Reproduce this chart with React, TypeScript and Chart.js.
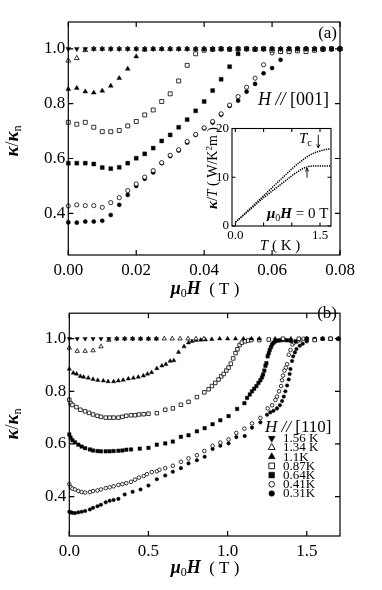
import React, { useEffect, useRef } from 'react';
import { Chart, registerables } from 'chart.js';

Chart.register(...registerables);

const SERIF = '"Liberation Serif", "Times New Roman", Times, serif';

// ---------------- panel (a): H // [001] ----------------
const aField = [0, 0.0025, 0.005, 0.0075, 0.01, 0.0125, 0.015, 0.0175, 0.02, 0.0225, 0.025, 0.0275, 0.03, 0.0325, 0.035, 0.0375, 0.04, 0.0425, 0.045, 0.0475, 0.05, 0.0525, 0.055, 0.0575, 0.06, 0.0625, 0.065, 0.0675, 0.07, 0.0725, 0.075, 0.0775, 0.08];
const aK156 = [1, 1, 1, 1, 1, 1, 1, 1, 1, 1, 1, 1, 1, 1, 1, 1, 1, 1, 1, 1, 1, 1, 1, 1, 1, 1, 1, 1, 1, 1, 1, 1, 1];
const aK134 = [0.957, 0.966, 0.995, 1, 1, 1, 1, 1, 1, 1, 1, 1, 1, 1, 1, 1, 1, 1, 1, 1, 1, 1, 1, 1, 1, 1, 1, 1, 1, 1, 1, 1, 1];
const aK110 = [0.853, 0.857, 0.844, 0.840, 0.847, 0.865, 0.893, 0.927, 0.972, 0.996, 1, 1, 1, 1, 1, 1, 1, 1, 1, 1, 1, 1, 1, 1, 1, 1, 1, 1, 1, 1, 1, 1, 1];
const aK087 = [0.732, 0.725, 0.732, 0.714, 0.698, 0.698, 0.702, 0.719, 0.735, 0.759, 0.777, 0.808, 0.836, 0.883, 0.940, 0.982, 0.995, 0.998, 1, 0.998, 1, 1, 0.998, 1, 0.995, 0.99, 0.99, 0.993, 0.99, 0.995, 0.998, 1, 1];
const aK064 = [0.583, 0.583, 0.583, 0.580, 0.567, 0.563, 0.568, 0.583, 0.601, 0.617, 0.638, 0.664, 0.686, 0.714, 0.742, 0.774, 0.808, 0.848, 0.889, 0.935, 0.982, 1, 0.998, 1, 1, 0.998, 1, 1, 1, 0.998, 1, 1, 1];
const aK041 = [0.427, 0.431, 0.428, 0.428, 0.422, 0.439, 0.457, 0.483, 0.507, 0.532, 0.556, 0.585, 0.612, 0.632, 0.662, 0.688, 0.712, 0.735, 0.763, 0.795, 0.826, 0.86, 0.893, 0.942, 0.985, 0.99, 0.995, 1, 1, 1, 1, 1, 1];
const aK031 = [0.367, 0.366, 0.370, 0.370, 0.373, 0.394, 0.431, 0.467, 0.500, 0.526, 0.549, 0.583, 0.609, 0.629, 0.658, 0.686, 0.710, 0.731, 0.760, 0.792, 0.811, 0.844, 0.872, 0.911, 0.930, 0.960, 0.990, 1, 1, 1, 1, 1, 1];

const aXTicks = [0, 0.02, 0.04, 0.06, 0.08];
const aXTickLabels = ['0.00', '0.02', '0.04', '0.06', '0.08'];
const yTicks = [0.4, 0.6, 0.8, 1.0];
const yTickLabels = ['0.4', '0.6', '0.8', '1.0'];

// ---------------- panel (b): H // [110] ----------------
const bX156 = [0, 0.05, 0.1, 0.15, 0.2, 0.25, 0.3, 0.35, 0.4, 0.45, 0.5, 0.55];
const bK156 = [1, 1, 1, 1, 1, 1, 1, 1, 1, 1, 1, 1];
const bX134 = [0, 0.05, 0.1, 0.15, 0.2, 0.25, 0.3, 0.35, 0.4, 0.45, 0.5, 0.55, 0.6, 0.65, 0.7, 0.75, 0.8, 0.85];
const bK134 = [0.965, 0.953, 0.953, 0.955, 0.97, 0.995, 1, 1, 1, 1, 1, 1, 1, 1, 1, 1, 1, 1];
const bX110 = [0, 0.025, 0.046, 0.07, 0.09, 0.12, 0.15, 0.18, 0.215, 0.245, 0.28, 0.31, 0.34, 0.373, 0.405, 0.436, 0.468, 0.494, 0.52, 0.553, 0.585, 0.61, 0.637, 0.66, 0.69, 0.725, 0.753, 0.775, 0.8, 0.83, 0.86, 0.9, 0.95, 1.0, 1.05, 1.1, 1.15, 1.2, 1.3, 1.4, 1.5, 1.6, 1.7];
const bK110 = [0.885, 0.870, 0.866, 0.857, 0.854, 0.851, 0.846, 0.842, 0.840, 0.837, 0.837, 0.840, 0.843, 0.848, 0.851, 0.854, 0.859, 0.866, 0.872, 0.887, 0.897, 0.903, 0.915, 0.917, 0.949, 0.970, 0.985, 0.990, 0.994, 0.995, 0.996, 0.998, 1, 1, 1, 1, 1, 1, 1, 1, 1, 1, 1];
const bX087 = [0, 0.008, 0.02, 0.045, 0.07, 0.1, 0.125, 0.15, 0.178, 0.2, 0.23, 0.255, 0.28, 0.31, 0.335, 0.36, 0.39, 0.415, 0.44, 0.47, 0.5, 0.553, 0.606, 0.654, 0.705, 0.753, 0.806, 0.853, 0.88, 0.901, 0.922, 0.943, 0.96, 0.975, 0.992, 1.006, 1.02, 1.035, 1.05, 1.062, 1.076, 1.09, 1.11, 1.13, 1.15, 1.2, 1.26, 1.35, 1.45, 1.55, 1.65];
const bK087 = [0.768, 0.755, 0.748, 0.740, 0.730, 0.724, 0.718, 0.712, 0.707, 0.703, 0.700, 0.700, 0.700, 0.700, 0.703, 0.707, 0.709, 0.709, 0.712, 0.713, 0.715, 0.717, 0.730, 0.735, 0.749, 0.760, 0.778, 0.796, 0.808, 0.820, 0.832, 0.845, 0.857, 0.866, 0.879, 0.890, 0.905, 0.925, 0.945, 0.960, 0.976, 0.985, 0.990, 0.993, 0.995, 0.995, 0.997, 1, 1, 0.995, 1];
const bX064 = [0, 0.008, 0.02, 0.036, 0.057, 0.078, 0.1, 0.13, 0.15, 0.178, 0.2, 0.23, 0.255, 0.28, 0.31, 0.335, 0.36, 0.39, 0.445, 0.5, 0.553, 0.606, 0.654, 0.705, 0.753, 0.806, 0.855, 0.905, 0.954, 1.006, 1.06, 1.106, 1.123, 1.14, 1.154, 1.168, 1.182, 1.195, 1.207, 1.217, 1.224, 1.232, 1.239, 1.245, 1.253, 1.26, 1.266, 1.274, 1.281, 1.29, 1.302, 1.318, 1.334, 1.355, 1.376, 1.4, 1.43, 1.5, 1.55, 1.6, 1.65, 1.7];
const bK064 = [0.636, 0.624, 0.614, 0.606, 0.597, 0.590, 0.584, 0.579, 0.575, 0.573, 0.572, 0.572, 0.572, 0.573, 0.574, 0.575, 0.578, 0.579, 0.582, 0.585, 0.597, 0.602, 0.609, 0.627, 0.633, 0.648, 0.660, 0.675, 0.690, 0.706, 0.733, 0.755, 0.775, 0.788, 0.800, 0.810, 0.820, 0.832, 0.842, 0.853, 0.864, 0.879, 0.897, 0.907, 0.933, 0.945, 0.957, 0.968, 0.978, 0.985, 0.990, 0.993, 0.994, 0.995, 0.994, 0.992, 0.990, 1, 0.998, 1, 1, 1];
const bX041 = [0, 0.01, 0.02, 0.036, 0.057, 0.078, 0.1, 0.13, 0.15, 0.178, 0.2, 0.23, 0.255, 0.28, 0.31, 0.335, 0.36, 0.39, 0.415, 0.44, 0.47, 0.49, 0.521, 0.553, 0.57, 0.606, 0.654, 0.705, 0.753, 0.806, 0.853, 0.905, 0.954, 1.006, 1.055, 1.106, 1.154, 1.207, 1.253, 1.281, 1.302, 1.312, 1.325, 1.338, 1.344, 1.35, 1.359, 1.368, 1.376, 1.386, 1.397, 1.41, 1.42, 1.44, 1.46, 1.48, 1.5];
const bK041 = [0.447, 0.435, 0.430, 0.427, 0.421, 0.417, 0.415, 0.417, 0.421, 0.423, 0.427, 0.432, 0.435, 0.439, 0.444, 0.447, 0.451, 0.456, 0.464, 0.472, 0.478, 0.485, 0.493, 0.496, 0.502, 0.508, 0.517, 0.532, 0.545, 0.557, 0.573, 0.593, 0.605, 0.617, 0.642, 0.658, 0.678, 0.699, 0.735, 0.747, 0.767, 0.780, 0.800, 0.820, 0.842, 0.860, 0.879, 0.890, 0.903, 0.939, 0.957, 0.978, 0.985, 0.990, 0.995, 1, 1];
const bX031 = [0, 0.01, 0.02, 0.036, 0.057, 0.078, 0.1, 0.13, 0.15, 0.178, 0.2, 0.23, 0.255, 0.28, 0.31, 0.35, 0.4, 0.45, 0.5, 0.553, 0.606, 0.654, 0.705, 0.753, 0.806, 0.855, 0.905, 0.954, 1.006, 1.055, 1.108, 1.154, 1.207, 1.249, 1.27, 1.29, 1.312, 1.33, 1.344, 1.355, 1.365, 1.376, 1.386, 1.392, 1.397, 1.407, 1.414, 1.425, 1.435, 1.456, 1.475, 1.5, 1.55, 1.6, 1.65, 1.7];
const bK031 = [0.342, 0.340, 0.338, 0.337, 0.340, 0.342, 0.345, 0.351, 0.357, 0.363, 0.369, 0.378, 0.384, 0.387, 0.391, 0.408, 0.418, 0.427, 0.442, 0.466, 0.480, 0.494, 0.508, 0.526, 0.538, 0.551, 0.581, 0.593, 0.602, 0.626, 0.630, 0.662, 0.682, 0.711, 0.720, 0.726, 0.735, 0.747, 0.763, 0.780, 0.800, 0.822, 0.845, 0.866, 0.885, 0.915, 0.933, 0.948, 0.961, 0.973, 0.981, 0.990, 1, 1, 1, 1];

const bXTicks = [0, 0.5, 1.0, 1.5];
const bXTickLabels = ['0.0', '0.5', '1.0', '1.5'];

const seriesLabels = ['1.56 K', '1.34 K', '1.1K', '0.87K', '0.64K', '0.41K', '0.31K'];

// ---------------- inset: kappa/T vs T at zero field ----------------
const insetT = [0, 0.1, 0.2, 0.3, 0.4, 0.5, 0.6, 0.7, 0.8, 0.9, 1.0, 1.1, 1.2, 1.3, 1.4, 1.5, 1.6, 1.68];
const insetUpper = [0.8, 1.8, 2.9, 4.0, 5.1, 6.2, 7.3, 8.4, 9.5, 10.6, 11.7, 12.7, 13.6, 14.4, 15.0, 15.4, 15.7, 15.8];
const insetLower = [0.8, 1.8, 2.8, 3.8, 4.8, 5.8, 6.7, 7.6, 8.5, 9.4, 10.3, 11.1, 11.8, 12.2, 12.3, 12.3, 12.3, 12.3];
const insetXTicks = [0, 0.5, 1.0, 1.5];
const insetXTickLabels = ['0.0', '', '', '1.5'];
const insetYTicks = [0, 10, 20];
const insetYTickLabels = ['0', '10', '20'];
const tcUpper = { t: 1.47, from: 18.7, to: 16.0 };
const tcLower = { t: 1.27, from: 9.9, to: 11.9 };

// ---------------- helpers ----------------
type Seg = { t: string; f: string; dy?: number };
const F = (size: number, style = '') => `${style} ${size}px ${SERIF}`.trim();

function drawSegs(ctx: CanvasRenderingContext2D, segs: Seg[], x: number, y: number, align: 'left' | 'center' | 'right' = 'left') {
  ctx.save();
  ctx.fillStyle = '#000';
  ctx.textBaseline = 'alphabetic';
  ctx.textAlign = 'left';
  let total = 0;
  for (const s of segs) { ctx.font = s.f; total += ctx.measureText(s.t).width; }
  let cx = align === 'left' ? x : align === 'center' ? x - total / 2 : x - total;
  for (const s of segs) {
    ctx.font = s.f;
    ctx.fillText(s.t, cx, y + (s.dy || 0));
    cx += ctx.measureText(s.t).width;
  }
  ctx.restore();
}

function drawMarker(ctx: CanvasRenderingContext2D, style: string, rot: number, fill: string, x: number, y: number, r: number) {
  ctx.save();
  ctx.beginPath();
  if (style === 'circle') ctx.arc(x, y, r, 0, Math.PI * 2);
  else if (style === 'rect') { const s = r * Math.SQRT1_2; ctx.rect(x - s, y - s, 2 * s, 2 * s); }
  else {
    let a = (rot * Math.PI) / 180;
    for (let i = 0; i < 3; i++) {
      const px = x + Math.sin(a) * r, py = y - Math.cos(a) * r;
      if (i) ctx.lineTo(px, py); else ctx.moveTo(px, py);
      a += (2 * Math.PI) / 3;
    }
    ctx.closePath();
  }
  ctx.fillStyle = fill;
  ctx.fill();
  ctx.lineWidth = fill === '#000' ? 0.5 : 0.9;
  ctx.strokeStyle = '#000';
  ctx.stroke();
  ctx.restore();
}

const markerDefs = [
  { style: 'triangle', rot: 180, filled: true },
  { style: 'triangle', rot: 0, filled: false },
  { style: 'triangle', rot: 0, filled: true },
  { style: 'rect', rot: 0, filled: false },
  { style: 'rect', rot: 0, filled: true },
  { style: 'circle', rot: 0, filled: false },
  { style: 'circle', rot: 0, filled: true },
];

function makeDatasets(xs: number[][], ys: number[][], sizes: Record<string, number>) {
  return ys.map((y, i) => {
    const m = markerDefs[i];
    return {
      label: seriesLabels[i],
      data: y.map((v, j) => ({ x: xs[i][j], y: v })),
      pointStyle: m.style,
      pointRotation: m.rot,
      pointRadius: sizes[m.style],
      pointHoverRadius: sizes[m.style],
      pointBackgroundColor: m.filled ? '#000' : '#fff',
      pointBorderColor: '#000',
      pointBorderWidth: m.filled ? 0.4 : 0.8,
      showLine: false,
      clip: false,
    };
  });
}

function axisX(min: number, max: number, ticks: number[], labels: string[], height: number, size = 17, pad = 5) {
  return {
    type: 'linear', position: 'bottom', min, max,
    afterBuildTicks: (s: any) => { s.ticks = ticks.map((v) => ({ value: v })); },
    afterFit: (s: any) => { s.height = height; },
    ticks: {
      autoSkip: false, maxRotation: 0, minRotation: 0, padding: pad, color: '#000',
      font: { family: SERIF, size },
      callback: (_v: any, i: number) => labels[i] ?? '',
    },
    grid: { display: false, drawTicks: false },
    border: { display: false },
  };
}

function axisY(min: number, max: number, ticks: number[], labels: string[], width: number, size = 17, pad = 3) {
  return {
    type: 'linear', position: 'left', min, max,
    afterBuildTicks: (s: any) => { s.ticks = ticks.map((v) => ({ value: v })); },
    afterFit: (s: any) => { s.width = width; },
    ticks: {
      autoSkip: false, padding: pad, color: '#000',
      font: { family: SERIF, size },
      callback: (_v: any, i: number) => labels[i] ?? '',
    },
    grid: { display: false, drawTicks: false },
    border: { display: false },
  };
}

function framePlugin(xt: number[], yt: number[], len: number, lw: number) {
  return {
    id: 'frame',
    afterDatasetsDraw(chart: any) {
      const { ctx, chartArea: a, scales } = chart;
      ctx.save();
      ctx.strokeStyle = '#000';
      ctx.lineWidth = lw;
      ctx.beginPath();
      for (const v of xt) {
        const p = scales.x.getPixelForValue(v);
        ctx.moveTo(p, a.bottom); ctx.lineTo(p, a.bottom - len);
        ctx.moveTo(p, a.top); ctx.lineTo(p, a.top + len);
      }
      for (const v of yt) {
        const p = scales.y.getPixelForValue(v);
        ctx.moveTo(a.left, p); ctx.lineTo(a.left + len, p);
        ctx.moveTo(a.right, p); ctx.lineTo(a.right - len, p);
      }
      ctx.stroke();
      ctx.strokeRect(a.left, a.top, a.right - a.left, a.bottom - a.top);
      ctx.restore();
    },
  };
}

const textPlugin = (fn: (chart: any) => void) => ({ id: 'texts', afterDraw: fn });

const muH = (size: number): Seg[] => [
  { t: 'μ', f: F(size, 'italic bold') },
  { t: '0', f: F(Math.round(size * 0.65)), dy: 3 },
  { t: 'H', f: F(size, 'italic bold') },
];

function drawYTitle(ctx: CanvasRenderingContext2D, x: number, y: number) {
  ctx.save();
  ctx.translate(x, y);
  ctx.rotate(-Math.PI / 2);
  drawSegs(ctx, [
    { t: 'κ', f: F(19, 'italic bold') },
    { t: '/', f: F(18) },
    { t: 'κ', f: F(19, 'italic bold') },
    { t: 'n', f: F(12), dy: 3 },
  ], 0, 0, 'center');
  ctx.restore();
}

const baseOptions = {
  responsive: false,
  animation: false,
  devicePixelRatio: 1,
  events: [],
  plugins: { legend: { display: false }, tooltip: { enabled: false } },
};

function configA() {
  const xs = [aField, aField, aField, aField, aField, aField, aField];
  return {
    type: 'scatter',
    data: { datasets: makeDatasets(xs, [aK156, aK134, aK110, aK087, aK064, aK041, aK031], { circle: 2.1, rect: 2.8, triangle: 2.8 }) },
    options: {
      ...baseOptions,
      layout: { padding: { left: 0, top: 22, right: 42, bottom: 0 } },
      scales: {
        x: axisX(0, 0.08, aXTicks, aXTickLabels, 45),
        y: axisY(0.248, 1.098, yTicks, yTickLabels, 68.3),
      },
    },
    plugins: [
      framePlugin(aXTicks, yTicks, 5, 1.2),
      textPlugin((chart: any) => {
        const ctx = chart.ctx;
        drawYTitle(ctx, 18, 141);
        drawSegs(ctx, [...muH(18), { t: '  ( T )', f: F(17) }], 205, 294, 'center');
        drawSegs(ctx, [{ t: '(a)', f: F(17) }], 337, 38, 'right');
        drawSegs(ctx, [{ t: 'H // ', f: F(18, 'italic') }, { t: '[001]', f: F(18) }], 258, 105, 'left');
      }),
    ],
  };
}

function configB() {
  const xs = [bX156, bX134, bX110, bX087, bX064, bX041, bX031];
  return {
    type: 'scatter',
    data: { datasets: makeDatasets(xs, [bK156, bK134, bK110, bK087, bK064, bK041, bK031], { circle: 1.8, rect: 2.5, triangle: 2.5 }) },
    options: {
      ...baseOptions,
      layout: { padding: { left: 0, top: 3.3, right: 42, bottom: 0 } },
      scales: {
        x: axisX(0, 1.71, bXTicks, bXTickLabels, 54),
        y: axisY(0.25, 1.097, yTicks, yTickLabels, 69.3),
      },
    },
    plugins: [
      framePlugin(bXTicks, yTicks, 5, 1.2),
      textPlugin((chart: any) => {
        const ctx = chart.ctx;
        drawYTitle(ctx, 18, 124);
        drawSegs(ctx, [...muH(18), { t: '  ( T )', f: F(17) }], 205, 273, 'center');
        drawSegs(ctx, [{ t: '(b)', f: F(17) }], 337, 18, 'right');
        drawSegs(ctx, [{ t: 'H // ', f: F(17, 'italic') }, { t: '[110]', f: F(17) }], 265, 132, 'left');
        // legend built from the datasets
        const legendR: Record<string, number> = { triangle: 4, rect: 4, circle: 2.8 };
        chart.data.datasets.forEach((ds: any, i: number) => {
          const cy = 138.3 + i * 9.2;
          drawMarker(ctx, ds.pointStyle, ds.pointRotation, ds.pointBackgroundColor, 271.7, cy, legendR[ds.pointStyle]);
          ctx.save();
          ctx.font = F(13);
          ctx.fillStyle = '#000';
          ctx.textBaseline = 'middle';
          ctx.textAlign = 'left';
          ctx.fillText(ds.label, 283, cy + 0.5);
          ctx.restore();
        });
      }),
    ],
  };
}

function configInset() {
  const line = (ys: number[]) => ({
    data: insetT.map((t, i) => ({ x: t, y: ys[i] })),
    showLine: true,
    pointRadius: 0,
    borderColor: '#000',
    borderWidth: 1.5,
    borderDash: [1.3, 1.0],
    cubicInterpolationMode: 'monotone',
  });
  return {
    type: 'scatter',
    data: { datasets: [{ label: 'upper', ...line(insetUpper) }, { label: 'lower', ...line(insetLower) }] },
    options: {
      ...baseOptions,
      layout: { padding: { left: 0, top: 13.5, right: 14, bottom: 0 } },
      scales: {
        x: axisX(-0.06, 1.695, insetXTicks, insetXTickLabels, 34, 13, 2),
        y: axisY(0, 20, insetYTicks, insetYTickLabels, 42, 13, 3),
      },
    },
    plugins: [
      {
        id: 'whitebg',
        beforeDraw(chart: any) {
          const { ctx, chartArea: a } = chart;
          ctx.save();
          ctx.fillStyle = '#fff';
          ctx.fillRect(a.left, a.top, a.right - a.left, a.bottom - a.top);
          ctx.restore();
        },
      },
      framePlugin(insetXTicks, insetYTicks, 3.5, 1.1),
      textPlugin((chart: any) => {
        const ctx = chart.ctx;
        const sx = chart.scales.x, sy = chart.scales.y;
        ctx.save();
        ctx.translate(27, 53);
        ctx.rotate(-Math.PI / 2);
        drawSegs(ctx, [
          { t: 'κ', f: F(15, 'italic bold') },
          { t: '/', f: F(14) },
          { t: 'T', f: F(14, 'italic') },
          { t: ' ( W/K', f: F(14) },
          { t: '2', f: F(9), dy: -5 },
          { t: 'm )', f: F(14) },
        ], 0, 0, 'center');
        ctx.restore();
        drawSegs(ctx, [{ t: 'T', f: F(15, 'italic') }, { t: ' ( K )', f: F(15) }], 90, 135, 'center');
        drawSegs(ctx, [...muH(15), { t: ' = 0 T', f: F(15) }], 77, 103, 'left');
        drawSegs(ctx, [{ t: 'T', f: F(15, 'italic') }, { t: 'c', f: F(10), dy: 3 }], 109, 28, 'left');
        const arrow = (a: { t: number; from: number; to: number }) => {
          const x = sx.getPixelForValue(a.t);
          const y0 = sy.getPixelForValue(a.from), y1 = sy.getPixelForValue(a.to);
          const d = Math.sign(y1 - y0);
          ctx.save();
          ctx.strokeStyle = '#000';
          ctx.lineWidth = 0.9;
          ctx.beginPath();
          ctx.moveTo(x, y0); ctx.lineTo(x, y1);
          ctx.moveTo(x - 1.6, y1 - d * 3.5); ctx.lineTo(x, y1); ctx.lineTo(x + 1.6, y1 - d * 3.5);
          ctx.stroke();
          ctx.restore();
        };
        arrow(tcUpper);
        arrow(tcLower);
      }),
    ],
  };
}

function ChartBox({ make, left, top, width, height }: { make: () => any; left: number; top: number; width: number; height: number }) {
  const ref = useRef<HTMLCanvasElement>(null);
  useEffect(() => {
    const chart = new Chart(ref.current as HTMLCanvasElement, make());
    return () => chart.destroy();
  }, []);
  return (
    <canvas
      ref={ref}
      width={width}
      height={height}
      style={{ position: 'absolute', left, top, width, height, display: 'block' }}
    />
  );
}

export default function App() {
  return (
    <div style={{ position: 'absolute', left: 0, top: 0, width: 382, height: 590, background: '#fff', overflow: 'hidden' }}>
      <ChartBox make={configA} left={0} top={0} width={382} height={300} />
      <ChartBox make={configB} left={0} top={300} width={382} height={290} />
      <ChartBox make={configInset} left={190} top={115} width={155} height={145} />
    </div>
  );
}
